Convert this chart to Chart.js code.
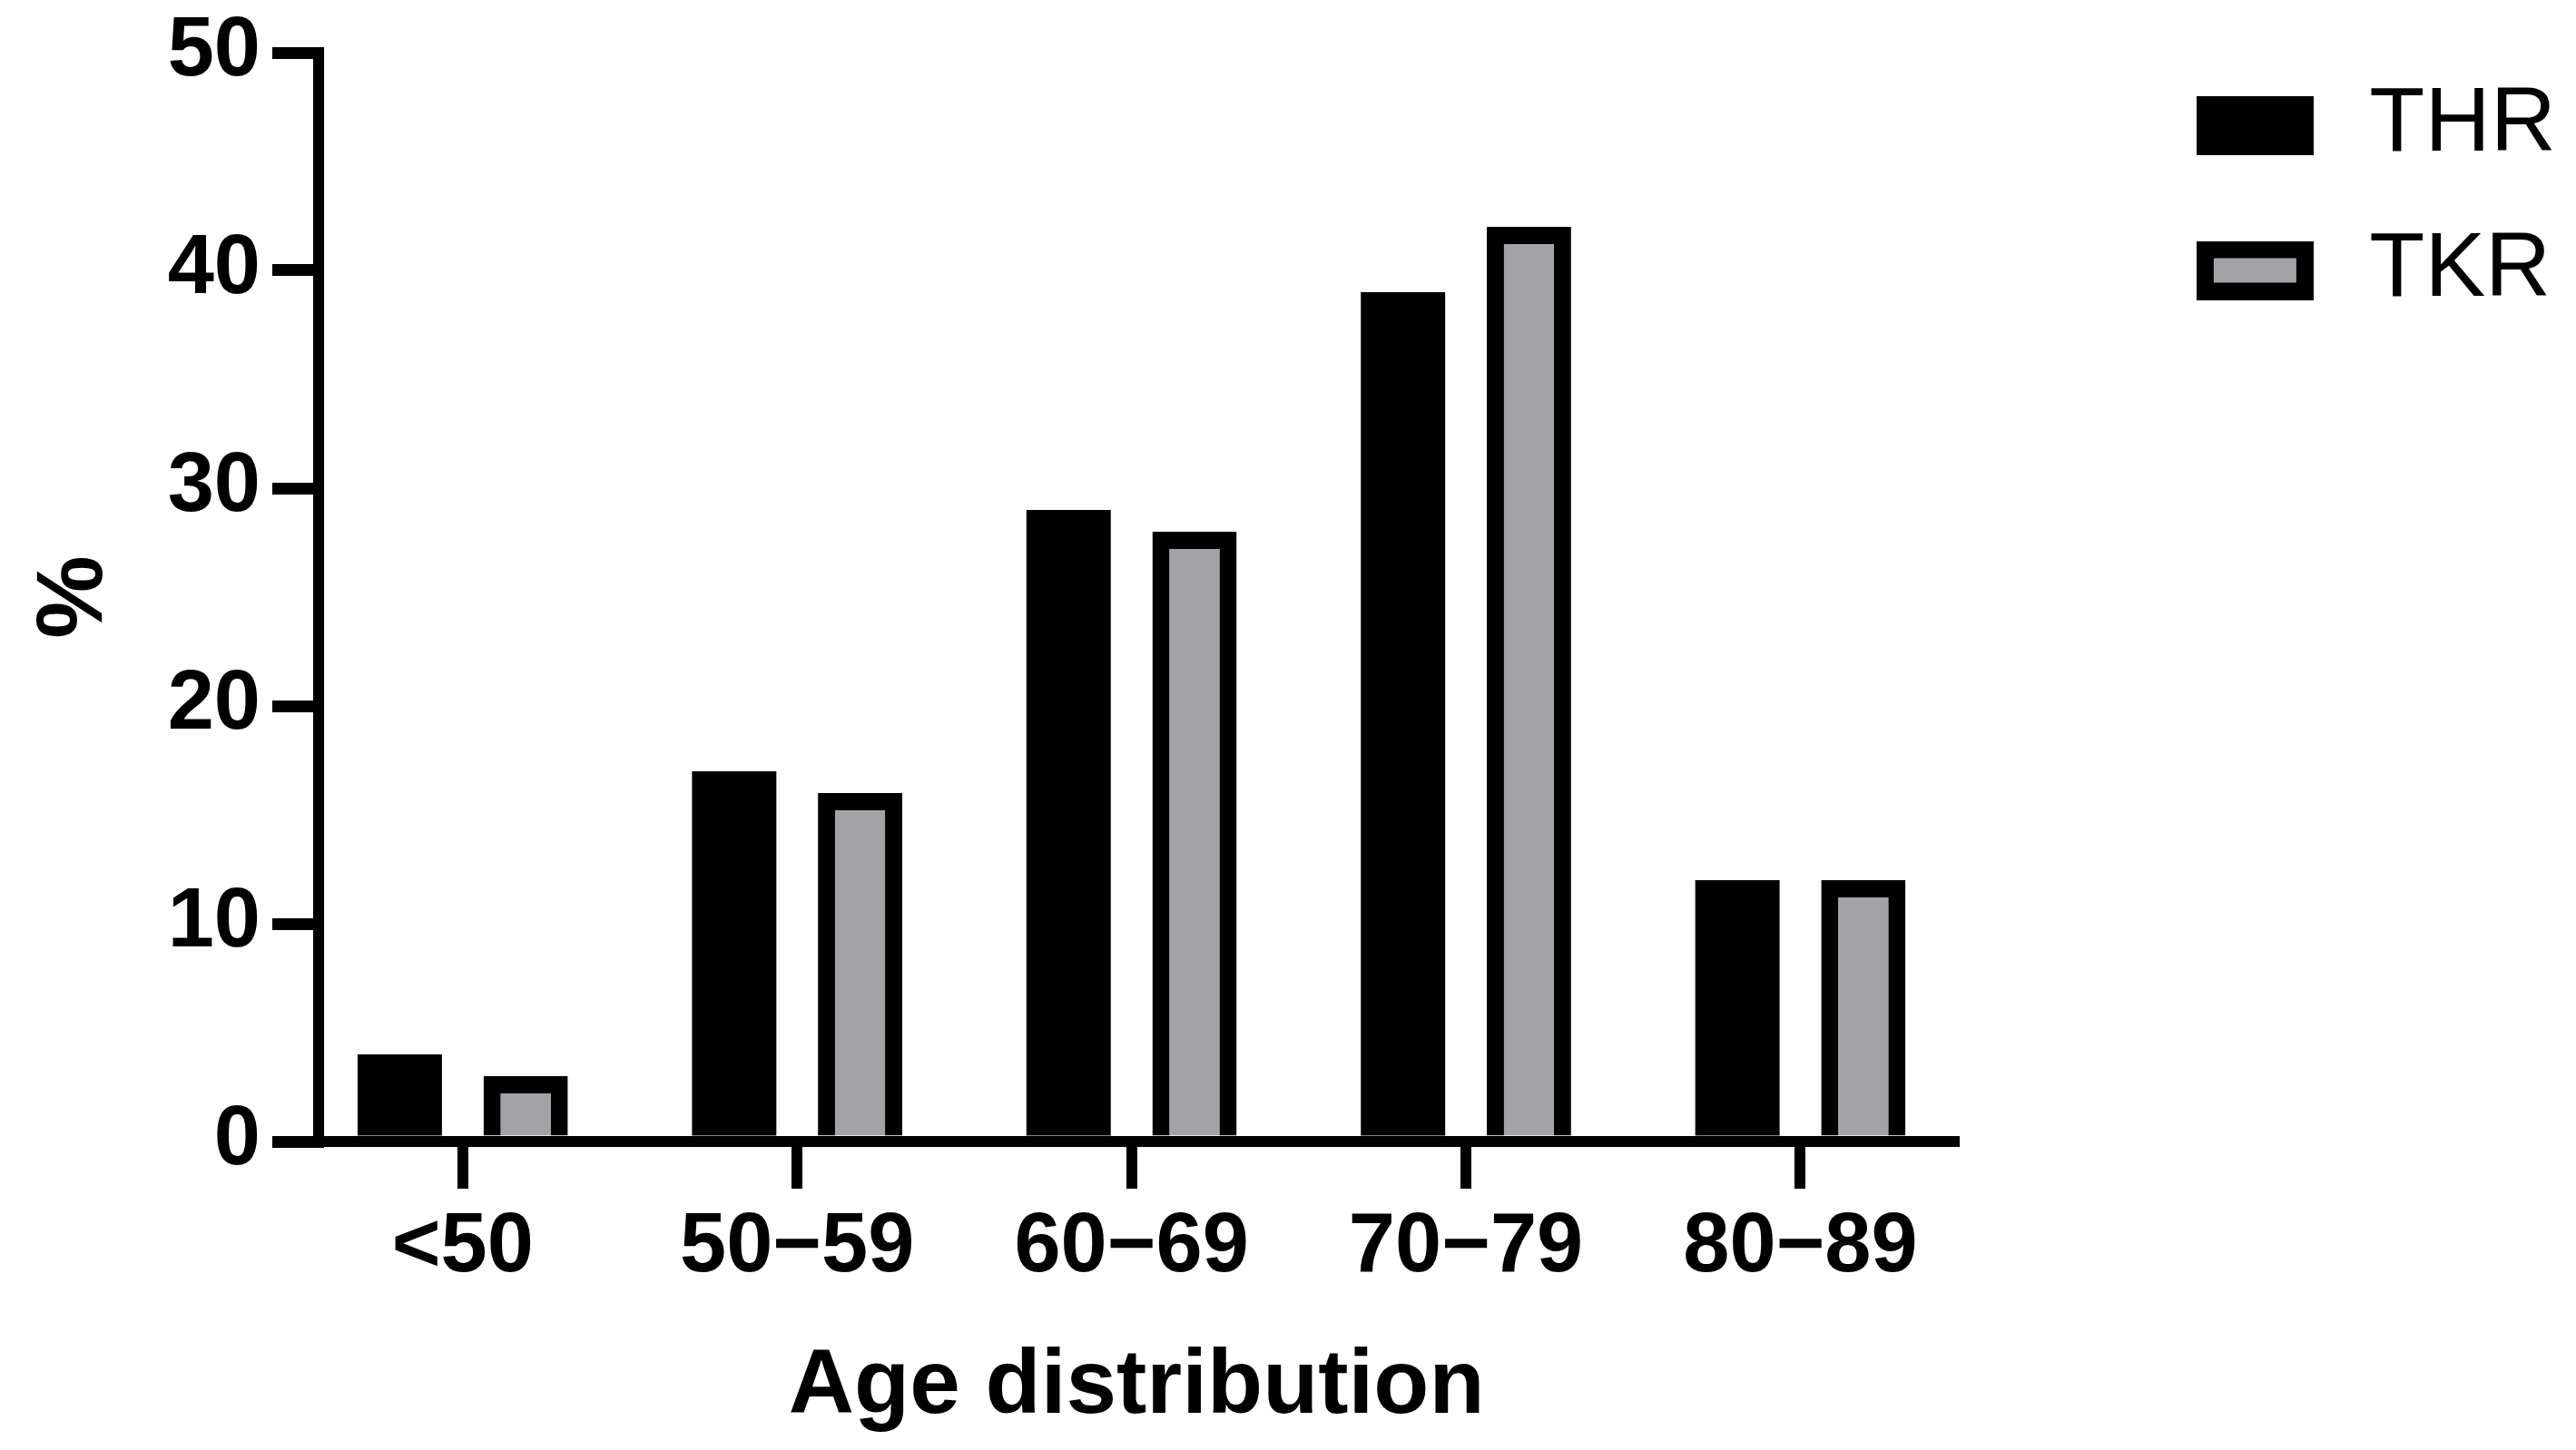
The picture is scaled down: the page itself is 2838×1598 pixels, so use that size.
<!DOCTYPE html>
<html>
<head>
<meta charset="utf-8">
<script src="https://cdn.jsdelivr.net/npm/chart.js@4.4.1/dist/chart.umd.min.js"></script>
<style>
  html, body { margin: 0; padding: 0; background: #fff; }
  canvas { display: block; }
</style>
</head>
<body>
<canvas id="ageChart" width="2838" height="1598"></canvas>
<script>
const ageGroups = ['<50', '50\u221259', '60\u221269', '70\u221279', '80\u221289']
const thrPercent = [4, 17, 29, 39, 12]
const tkrPercent = [3, 16, 28, 42, 12]
const yTicks = [0, 10, 20, 30, 40, 50]

const black = '#000'
const grey = '#a3a2a7'
const axisWidth = 12
const barBorder = 19

Chart.defaults.font.family = "'Liberation Sans', Arial, Helvetica, sans-serif"
Chart.defaults.color = black

// legend swatches: outlined box like the bars
function swatch(fill) {
  const c = document.createElement('canvas')
  c.width = 129
  c.height = 65
  const g = c.getContext('2d')
  g.fillStyle = black
  g.fillRect(0, 0, c.width, c.height)
  g.fillStyle = fill
  g.fillRect(barBorder, barBorder, c.width - 2 * barBorder, c.height - 2 * barBorder)
  return c
}
const swatches = [swatch(black), swatch(grey)]

// bars sit on a linear x scale so the first group can start away from the y axis
const toPoints = values => values.map((v, i) => ({ x: i, y: v }))

const ctx = document.getElementById('ageChart').getContext('2d')

const chart = new Chart(ctx, {
  type: 'bar',
  data: {
    datasets: [{
      label: 'THR',
      data: toPoints(thrPercent),
      backgroundColor: black,
      borderWidth: 0,
      categoryPercentage: 0.753,
      barPercentage: 0.67,
      xAxisID: 'x',
      yAxisID: 'y'
    }, {
      label: 'TKR',
      data: toPoints(tkrPercent),
      backgroundColor: grey,
      borderColor: black,
      borderWidth: barBorder,
      categoryPercentage: 0.753,
      barPercentage: 0.67,
      xAxisID: 'x',
      yAxisID: 'y'
    }]
  },
  options: {
    responsive: false,
    animation: false,
    devicePixelRatio: 1,
    layout: { padding: { top: 28, right: 20, bottom: 0, left: 0 } },
    scales: {
      x: {
        type: 'linear',
        min: -0.431,
        max: 4.461,
        offset: false,
        grid: { offset: false, drawOnChartArea: false, color: black, lineWidth: axisWidth, tickLength: 52 },
        border: { color: black, width: axisWidth, z: 1 },
        afterBuildTicks: s => { s.ticks = ageGroups.map((_, i) => ({ value: i })) },
        ticks: {
          autoSkip: false,
          maxRotation: 0,
          padding: 10,
          font: { size: 92, weight: 'bold' },
          callback: v => ageGroups[v]
        },
        title: {
          display: true,
          text: 'Age distribution',
          font: { size: 100, weight: 'bold' },
          padding: { top: 0, bottom: 9 }
        },
        afterFit: s => { s.height = 340; s.paddingLeft = 0; s.paddingRight = 0 }
      },
      y: {
        min: 0,
        max: 50,
        grid: { drawOnChartArea: false, color: black, lineWidth: 13, tickLength: 51 },
        border: { color: black, width: axisWidth },
        afterBuildTicks: s => { s.ticks = yTicks.map(v => ({ value: v })) },
        ticks: { padding: 13, font: { size: 92, weight: 'bold' } },
        title: {
          display: true,
          text: '%',
          font: { size: 103, weight: 'bold' },
          padding: { top: 22, bottom: 0 }
        },
        afterFit: s => { s.width = 351; s.paddingTop = 58; s.paddingBottom = 0 }
      },
      // empty axis, only keeps the legend away from the plot
      gap: {
        type: 'linear',
        position: 'right',
        display: true,
        grid: { display: false },
        border: { display: false },
        ticks: { display: false },
        afterFit: s => { s.width = 195; s.paddingTop = 0; s.paddingBottom = 0 }
      }
    },
    plugins: {
      legend: {
        position: 'right',
        align: 'start',
        labels: {
          usePointStyle: true,
          pointStyleWidth: 152,
          boxHeight: 65,
          padding: 60,
          font: { size: 100, weight: 'normal' },
          generateLabels: c => Chart.defaults.plugins.legend.labels.generateLabels(c)
            .map((item, i) => ({ ...item, pointStyle: swatches[i] }))
        }
      },
      tooltip: { enabled: false }
    }
  }
})
</script>
</body>
</html>
